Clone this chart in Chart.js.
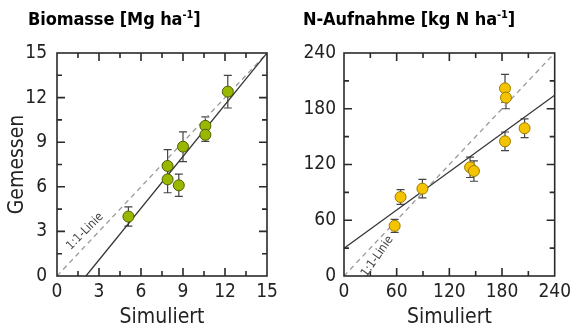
<!DOCTYPE html>
<html>
<head>
<meta charset="utf-8">
<script src="https://cdn.jsdelivr.net/npm/chart.js@4"></script>
<style>
  body { margin: 0; width: 576px; height: 331px; position: relative; background: #fff; overflow: hidden; }
  .box { position: absolute; top: 0; width: 288px; height: 331px; }
  .ttl { position: absolute; top: 8px; font: bold 18px "DejaVu Sans Condensed", "DejaVu Sans", sans-serif; color: #000; white-space: nowrap; letter-spacing: -0.1px; }
  .ttl sup { font-size: 11px; vertical-align: 7px; line-height: 0; }
</style>
</head>
<body>
<div class="box" style="left:0"><canvas id="bio" width="288" height="331"></canvas></div>
<div class="box" style="left:288px"><canvas id="nup" width="288" height="331"></canvas></div>
<div class="ttl" style="left:28px">Biomasse [Mg ha<sup>-1</sup>]</div>
<div class="ttl" style="left:303px">N-Aufnahme [kg N ha<sup>-1</sup>]</div>

<script>
// Biomasse [Mg/ha]: simuliert vs. gemessen (+/- Fehler)
var bioSim  = [5.1, 7.9, 7.9, 8.7, 9.0, 10.6, 10.6, 12.2];
var bioMeas = [4.0, 7.4, 6.5, 6.1, 8.7, 10.1, 9.5, 12.4];
var bioErr  = [0.65, 1.1, 0.9, 0.75, 1.0, 0.6, 0.45, 1.1];
var bioRegX = [2.07, 15];
var bioRegY = [0, 15];

// N-Aufnahme [kg N/ha]
var nSim  = [57.7, 64.4, 89.3, 143.6, 148, 183.4, 184.5, 183.4, 205.7];
var nMeas = [54, 85, 94, 117, 113, 202, 192, 145, 159];
var nErr  = [7, 8, 10, 11, 11, 15, 12, 10, 10];
var nRegX = [0, 240];
var nRegY = [29.8, 194.5];

var bioTicks = [0, 3, 6, 9, 12, 15];
var nTicks = [0, 60, 120, 180, 240];

var FONT = '"DejaVu Sans Condensed", "DejaVu Sans", sans-serif';

function pts(xs, ys) {
  return xs.map(function (x, i) { return { x: x, y: ys[i] }; });
}

// frame, inward ticks, error bars and the 1:1 label
var decor = {
  id: 'decor',
  beforeDatasetsDraw: function (chart, args, o) {
    var ctx = chart.ctx, xs = chart.scales.x, ys = chart.scales.y;
    ctx.save();
    // error bars
    ctx.strokeStyle = '#444';
    ctx.lineWidth = 1.2;
    o.sim.forEach(function (s, i) {
      var px = xs.getPixelForValue(s);
      var y1 = ys.getPixelForValue(o.meas[i] - o.err[i]);
      var y2 = ys.getPixelForValue(o.meas[i] + o.err[i]);
      ctx.beginPath();
      ctx.moveTo(px, y1); ctx.lineTo(px, y2);
      ctx.moveTo(px - 4, y1); ctx.lineTo(px + 4, y1);
      ctx.moveTo(px - 4, y2); ctx.lineTo(px + 4, y2);
      ctx.stroke();
    });
    // 1:1 label
    ctx.translate(xs.getPixelForValue(o.lab[0]), ys.getPixelForValue(o.lab[1]));
    ctx.rotate(o.labAngle * Math.PI / 180);
    ctx.fillStyle = '#444';
    ctx.font = '12px ' + FONT;
    ctx.textAlign = 'center';
    ctx.textBaseline = 'middle';
    ctx.fillText('1:1-Linie', 0, 0);
    ctx.restore();
  },
  afterDatasetsDraw: function (chart, args, o) {
    var ctx = chart.ctx, a = chart.chartArea, xs = chart.scales.x, ys = chart.scales.y;
    ctx.save();
    ctx.strokeStyle = '#2a2a2a';
    ctx.lineWidth = 1.6;
    ctx.strokeRect(a.left, a.top, a.right - a.left, a.bottom - a.top);
    ctx.beginPath();
    for (var v = o.minor; v < o.max; v += o.minor) {
      var len = (Math.abs(v % o.major) < 1e-6) ? 8 : 5;
      var px = xs.getPixelForValue(v), py = ys.getPixelForValue(v);
      ctx.moveTo(px, a.bottom); ctx.lineTo(px, a.bottom - len);
      ctx.moveTo(px, a.top); ctx.lineTo(px, a.top + len);
      ctx.moveTo(a.left, py); ctx.lineTo(a.left + len, py);
      ctx.moveTo(a.right, py); ctx.lineTo(a.right - len, py);
    }
    ctx.stroke();
    ctx.restore();
  }
};

function makeChart(id, c) {
  return new Chart(document.getElementById(id), {
    type: 'scatter',
    data: {
      datasets: [
        {
          data: pts(c.sim, c.meas),
          backgroundColor: c.fill,
          borderColor: c.edge,
          borderWidth: 1,
          pointRadius: 5.5,
          order: 0
        },
        {
          data: pts(c.regX, c.regY),
          showLine: true,
          borderColor: '#333',
          borderWidth: 1.3,
          pointRadius: 0,
          order: 1
        },
        {
          data: pts([0, c.max], [0, c.max]),
          showLine: true,
          borderColor: '#999',
          borderWidth: 1.3,
          borderDash: [5, 4],
          pointRadius: 0,
          order: 2
        }
      ]
    },
    options: {
      responsive: false,
      animation: false,
      layout: { padding: { top: 53, right: c.padRight, left: 0, bottom: 0 } },
      plugins: {
        legend: { display: false },
        tooltip: { enabled: false },
        decor: {
          sim: c.sim, meas: c.meas, err: c.err,
          max: c.max, major: c.step, minor: c.step / 2,
          lab: c.lab, labAngle: c.labAngle
        }
      },
      scales: {
        x: {
          type: 'linear', min: 0, max: c.max,
          afterBuildTicks: function (s) { s.ticks = c.ticks.map(function (v) { return { value: v }; }); },
          afterFit: function (s) { s.height = 55; },
          grid: { display: false, drawTicks: false },
          border: { display: false },
          ticks: { font: { family: FONT, size: 19 }, color: '#222', padding: 5 },
          title: { display: true, text: 'Simuliert', font: { family: FONT, size: 21 }, color: '#222', padding: { top: 0, bottom: 1 } }
        },
        y: {
          type: 'linear', min: 0, max: c.max,
          afterBuildTicks: function (s) { s.ticks = c.ticks.map(function (v) { return { value: v }; }); },
          afterFit: function (s) { s.width = c.axisW; },
          grid: { display: false, drawTicks: false },
          border: { display: false },
          ticks: { font: { family: FONT, size: 19 }, color: '#222', padding: c.tickPad },
          title: { display: !!c.yTitle, text: c.yTitle || '', font: { family: FONT, size: 21 }, color: '#222', padding: { top: 5, bottom: 0 } }
        }
      }
    },
    plugins: [decor]
  });
}

makeChart('bio', {
  sim: bioSim, meas: bioMeas, err: bioErr, regX: bioRegX, regY: bioRegY,
  max: 15, step: 3, ticks: bioTicks,
  fill: '#98b800', edge: '#4d5c00',
  yTitle: 'Gemessen', axisW: 57, padRight: 21, tickPad: 10,
  lab: [2.0, 3.0], labAngle: -45
});

makeChart('nup', {
  sim: nSim, meas: nMeas, err: nErr, regX: nRegX, regY: nRegY,
  max: 240, step: 60, ticks: nTicks,
  fill: '#f5c400', edge: '#9a7a00',
  yTitle: '', axisW: 56, padRight: 17, tickPad: 8,
  lab: [38, 21], labAngle: -55
});
</script>
</body>
</html>
